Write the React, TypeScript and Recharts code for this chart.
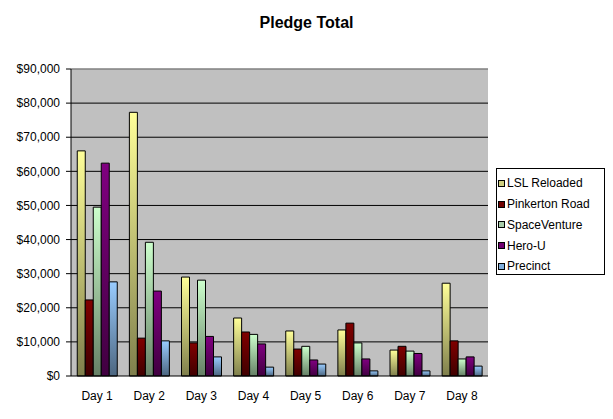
import React from "react";
import { BarChart, Bar, XAxis, YAxis, CartesianGrid, Legend } from "recharts";

const days = ["Day 1", "Day 2", "Day 3", "Day 4", "Day 5", "Day 6", "Day 7", "Day 8"];
const lslReloaded = [66000, 77300, 29000, 17000, 13200, 13500, 7600, 27200];
const pinkertonRoad = [22300, 11100, 9700, 12900, 7900, 15500, 8700, 10300];
const spaceVenture = [49500, 39200, 28100, 12200, 8700, 9700, 7300, 5000];
const heroU = [62400, 24900, 11600, 9400, 4700, 5000, 6600, 5600];
const precinct = [27600, 10300, 5600, 2600, 3500, 1500, 1500, 2900];

const yTicks = [0, 10000, 20000, 30000, 40000, 50000, 60000, 70000, 80000, 90000];
const gridValues = [10000, 20000, 30000, 40000, 50000, 60000, 70000, 80000];
const edgeTicks = [0, 1, 2, 3, 4, 5, 6, 7, 8];

// axis ids: "a" holds the tick marks between days, "b" the day labels
const EDGE_AXIS = "a";
const DAY_AXIS = "b";

const SERIES = [
  { key: "lsl", name: "LSL Reloaded", top: "#FFFF99", bottom: "#7F7F4C", swatch: "#CFCF80" },
  { key: "pink", name: "Pinkerton Road", top: "#800000", bottom: "#400000", swatch: "#700000" },
  { key: "space", name: "SpaceVenture", top: "#CCFFCC", bottom: "#668066", swatch: "#A8CCA8" },
  { key: "hero", name: "Hero-U", top: "#800080", bottom: "#400040", swatch: "#700070" },
  { key: "precinct", name: "Precinct", top: "#99CCFF", bottom: "#4C6680", swatch: "#80AEDC" },
];

const data = days.map((day, i) => ({
  day,
  lsl: lslReloaded[i],
  pink: pinkertonRoad[i],
  space: spaceVenture[i],
  hero: heroU[i],
  precinct: precinct[i],
}));

const FONT = "Arial, 'Liberation Sans', sans-serif";

function money(v: number) {
  return "$" + v.toLocaleString("en-US");
}

function LegendBox() {
  return (
    <div
      style={{
        boxSizing: "border-box",
        width: 109,
        height: 107,
        border: "1px solid #000",
        background: "#fff",
        paddingTop: 4,
        paddingLeft: 1,
        fontFamily: FONT,
        fontSize: 12,
        color: "#000",
      }}
    >
      {SERIES.map((s) => (
        <div key={s.key} style={{ height: 20.75, display: "flex", alignItems: "center" }}>
          <span
            style={{
              display: "inline-block",
              boxSizing: "border-box",
              width: 7,
              height: 7,
              border: "1px solid #000",
              background: s.swatch,
              marginRight: 2,
            }}
          />
          <span>{s.name}</span>
        </div>
      ))}
    </div>
  );
}

export default function App() {
  return (
    <div style={{ position: "absolute", left: 0, top: 0, width: 613, height: 419, background: "#fff", fontFamily: FONT }}>
      <div
        style={{
          position: "absolute",
          left: 0,
          top: 15,
          width: 613,
          textAlign: "center",
          fontSize: 16,
          lineHeight: "16px",
          fontWeight: "bold",
          color: "#000",
        }}
      >
        Pledge Total
      </div>
      <BarChart
        width={613}
        height={419}
        data={data}
        margin={{ top: 69, right: 125, bottom: 0, left: 0 }}
        barCategoryGap="12%"
        barGap={0}
        style={{ fontFamily: FONT }}
      >
        <defs>
          {SERIES.map((s) => (
            <linearGradient key={s.key} id={"grad-" + s.key} x1="0" y1="0" x2="0" y2="1">
              <stop offset="0%" stopColor={s.top} />
              <stop offset="100%" stopColor={s.bottom} />
            </linearGradient>
          ))}
        </defs>
        <CartesianGrid
          xAxisId={DAY_AXIS}
          vertical={false}
          horizontalValues={gridValues}
          stroke="#000"
          strokeOpacity={1}
          fill="#C0C0C0"
          fillOpacity={1}
        />
        <CartesianGrid
          xAxisId={EDGE_AXIS}
          horizontalValues={[90000]}
          verticalValues={[8]}
          stroke="#808080"
          strokeWidth={1.5}
        />
        <XAxis
          xAxisId={EDGE_AXIS}
          type="number"
          domain={[0, 8]}
          ticks={edgeTicks}
          interval={0}
          tick={false}
          tickSize={5}
          height={5}
          stroke="#000"
          allowDataOverflow
        />
        <XAxis
          xAxisId={DAY_AXIS}
          dataKey="day"
          interval={0}
          height={38}
          axisLine={false}
          tickLine={false}
          tickSize={4}
          tickMargin={6}
          tick={{ fill: "#000", fontSize: 12 }}
        />
        <YAxis
          width={71}
          domain={[0, 90000]}
          ticks={yTicks}
          interval={0}
          tickFormatter={money}
          tickSize={5}
          tickMargin={6}
          stroke="#000"
          tick={{ fill: "#000", fontSize: 12 }}
        />
        <Legend
          layout="vertical"
          align="center"
          verticalAlign="middle"
          wrapperStyle={{ left: 496, top: 168, width: 109 }}
          content={() => <LegendBox />}
        />
        {SERIES.map((s) => (
          <Bar
            key={s.key}
            xAxisId={DAY_AXIS}
            dataKey={s.key}
            name={s.name}
            fill={"url(#grad-" + s.key + ")"}
            stroke="#000"
            strokeWidth={1}
            isAnimationActive={false}
          />
        ))}
      </BarChart>
    </div>
  );
}
